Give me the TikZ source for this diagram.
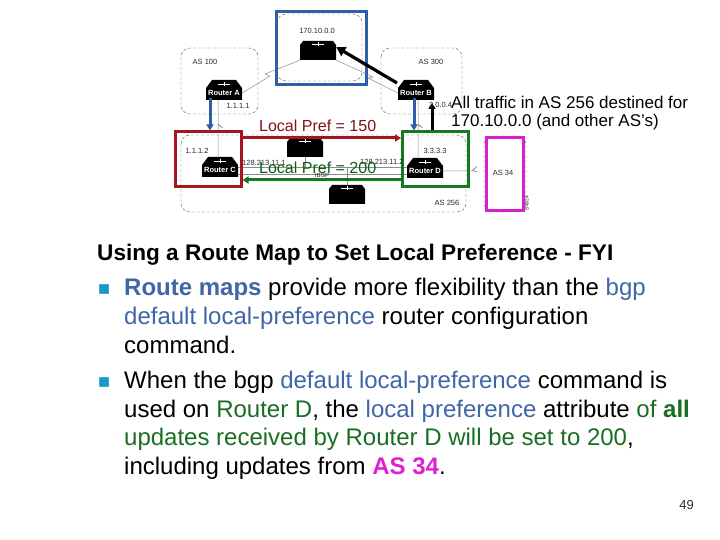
\documentclass[tikz,border=0pt]{standalone}
\usepackage{fontspec}
\setmainfont{Liberation Sans}
\usetikzlibrary{arrows.meta}
\definecolor{rblue}{HTML}{2F5FA8}
\definecolor{tblue}{HTML}{3F66A8}
\definecolor{bulcol}{HTML}{1B98C9}
\definecolor{tgreen}{HTML}{1A6E24}
\definecolor{rred}{HTML}{A31621}
\definecolor{rgreen}{HTML}{137A1E}
\definecolor{rmag}{HTML}{D81FD0}
\definecolor{tmag}{HTML}{E020D0}
\definecolor{ink}{HTML}{2B2B2B}
\newcommand{\rtr}[4]{%
 \fill[black] (#2-18,#3+20) -- (#2-18,#3+8) -- (#2-12,#3) -- (#2+12,#3) -- (#2+18,#3+8) -- (#2+18,#3+20) -- cycle;
 \draw[white,line width=.3pt] (#2-6,#3+4) -- (#2+6,#3+4) (#2,#3+2) -- (#2,#3+6);
 \node[routerlabel] (#1) at (#2,#3+13) {#4};}
\newcommand{\blk}[3]{%
 \fill[black] (#2-18,#3+19) -- (#2-18,#3+4) -- (#2-15,#3) -- (#2+15,#3) -- (#2+18,#3+4) -- (#2+18,#3+19) -- cycle;
 \draw[white,line width=.3pt] (#2-6,#3+3) -- (#2+6,#3+3) (#2,#3+1) -- (#2,#3+5);
 \node[inner sep=0pt,minimum width=36pt,minimum height=19pt] (#1) at (#2,#3+9.5) {};}
\tikzset{
 routerlabel/.style={text=white,font=\fontsize{7.5}{8}\selectfont\bfseries,inner sep=1pt,minimum width=36pt,minimum height=10pt},
 small/.style={font=\fontsize{7.5}{8}\selectfont,text=ink,inner sep=0pt},
 cloud/.style={draw=black!65,densely dashed,line width=.4pt,rounded corners=9pt},
 link/.style={draw=black!45,line width=.5pt},
 frame/.style={line width=3pt},
 arr/.style={line width=3pt,-{Triangle[length=6pt,width=7pt]}},
 body/.style={anchor=base west,inner sep=0pt,text=black,font=\fontsize{24}{28}\selectfont},
 bullet/.style={anchor=base west,inner sep=0pt,text=bulcol,font=\fontsize{20}{20}\selectfont},
 pref/.style={anchor=base west,inner sep=0pt,font=\fontsize{16}{18}\selectfont},
 note/.style={anchor=base west,inner sep=0pt,text=black,font=\fontsize{17}{20}\selectfont},
}
\begin{document}
\begin{tikzpicture}[x=1pt,y=-1pt]
\useasboundingbox (0,0) rectangle (720,540);
\fill[white] (0,0) rectangle (720,540);
% clouds
\draw[cloud] (181,48) rectangle (258,114);
\draw[cloud] (381,48) rectangle (462,114);
\draw[cloud] (181,135) rectangle (466,212);
\draw[cloud] (277,14) rectangle (362,81);
\draw[cloud] (484,136) rectangle (526,212);
% routers
\blk{top}{318}{41}
\rtr{ra}{224}{80}{Router A}
\rtr{rb}{416}{80}{Router B}
\rtr{rc}{220}{157}{Router C}
\blk{rm}{305}{138}
\blk{rn}{347}{185}
\rtr{rd}{425}{158}{Router D}
\coordinate (as34) at (478,172);
\draw[link] (ra.east) -- (270,76) -- (265,74) -- (top.south west);
\draw[link] (top.south east) -- (373,77) -- (368,78) -- (rb.west);
\draw[link] (218,100) -- (218,124) -- (223,128) -- (218,125) -- (218,157);
\draw[link] (418,100) -- (418,124) -- (423,128) -- (418,125) -- (418,158);
\draw[link] (rc.east |- 0,167) -- (rd.west |- 0,167);
\draw[link] (rc.east |- 0,174) -- (rd.west |- 0,174);
\draw[link] (rm.south) -- (305,167);
\draw[link] (rn.north) -- (347,168);
\draw[link] (rd.east) -- (472,171) -- (477,166) -- (473,171) -- (as34);
% coloured frames
\draw[rblue,frame] (276,12) rectangle (366,85);
\node[minimum width=66pt,minimum height=55pt,inner sep=0pt,draw=rred,frame] (red) at (208,159.5) {};
\node[minimum width=66pt,minimum height=55pt,inner sep=0pt,draw=rgreen,frame] (grn) at (435.5,159.5) {};
\node[minimum width=37pt,minimum height=73pt,inner sep=0pt,draw=rmag,frame] (mag) at (504.5,174.5) {};
% arrows
\draw[arr,rred] (red.east |- 0,138) -- (grn.west |- 0,138);
\draw[arr,rgreen] (grn.west |- 0,180) -- (red.east |- 0,180);
\draw[arr,rblue] (ra.south -| 210,0) -- (red.north -| 210,0);
\draw[arr,rblue] (rb.south -| 414,0) -- (grn.north -| 414,0);
\draw[arr,black] (grn.north -| 432,0) -- (432,103);
\draw[black,line width=3.2pt,-{Triangle[length=9pt,width=10pt]}] (397,83) -- (top.east |- 0,47);
% small labels
\node[small] (l1) at (317,31) {170.10.0.0};
\node[small] (l2) at (205,62) {AS 100};
\node[small] (l3) at (431,62) {AS 300};
\node[small] (l4) at (238,106) {1.1.1.1};
\node[small] (l5) at (197,151) {1.1.1.2};
\node[small,anchor=west] (l6) at (242,163) {128.213.11.1};
\node[small,anchor=west] (l7) at (360,162) {128.213.11.2};
\node[small,font=\fontsize{6}{7}\selectfont] (l8) at (322,175) {IBGP};
\node[small] (l9) at (435,151) {3.3.3.3};
\node[small,anchor=west] (l10) at (429,105) {3.0.0.4};
\node[small] (l11) at (503,173) {AS 34};
\node[small] (l12) at (447,203) {AS 256};
\node[small,rotate=90,font=\fontsize{5}{6}\selectfont] (l13) at (527,203) {S4924};
% overlay text
\node[pref,text=rred!80!black] (p1) at (259,132) {Local Pref = 150};
\node[pref,text=rgreen!75!black] (p2) at (259,174) {Local Pref = 200};
\node[note] (n1) at (451,109) {All traffic in AS 256 destined for};
\node[note] (n2) at (451,127) {170.10.0.0 (and other AS’s)};
% body
\node[body,font=\fontsize{22.6}{28}\selectfont\bfseries] (t0) at (97,260) {Using a Route Map to Set Local Preference - FYI};
\node[bullet] (b1) at (98,295) {■};
\node[body] (t1) at (124,295) {\textcolor{tblue}{\textbf{Route maps}} provide more flexibility than the \textcolor{tblue}{bgp}};
\node[body] (t2) at (124,324) {\textcolor{tblue}{default local-preference} router configuration};
\node[body] (t3) at (124,353) {command.};
\node[bullet] (b2) at (98,388) {■};
\node[body] (t4) at (124,388) {When the bgp \textcolor{tblue}{default local-preference} command is};
\node[body] (t5) at (124,417) {used on \textcolor{tgreen}{Router D}, the \textcolor{tblue}{local preference} attribute \textcolor{tgreen}{of \textbf{all}}};
\node[body] (t6) at (124,445) {\textcolor{tgreen}{updates received by Router D will be set to 200},};
\node[body] (t7) at (124,474) {including updates from \textcolor{tmag}{\textbf{AS 34}}.};
\node[anchor=base east,inner sep=0pt,text=ink,font=\fontsize{13}{15}\selectfont] (pg) at (694,509) {49};
\end{tikzpicture}
\end{document}
